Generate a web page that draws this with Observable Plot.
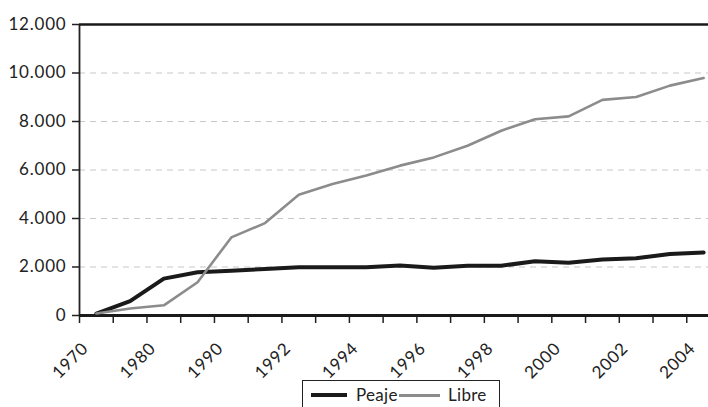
<!DOCTYPE html>
<html>
<head>
<meta charset="utf-8">
<script src="https://cdn.jsdelivr.net/npm/d3@7"></script>
<script src="https://cdn.jsdelivr.net/npm/@observablehq/plot@0.6"></script>
<style>
  html, body { margin: 0; padding: 0; background: #fff; overflow: hidden; width: 708px; height: 407px; }
  #wrap { position: relative; width: 708px; height: 407px; font-family: Lato, "Open Sans", sans-serif; }
  #chart svg text { letter-spacing: 0.8px; }
  #legend { position: absolute; left: 302px; top: 380px; width: 198px; height: 40px; border: 1px solid #222; box-sizing: border-box; font-size: 17px; color: #222; background: #fff; z-index: 2; }
  #legend .item { position: absolute; top: 4px; line-height: 20px; letter-spacing: 0.3px; }
  #legend .sw { position: absolute; }
</style>
</head>
<body>
<div id="wrap">
  <div id="chart"></div>
  <div id="legend">
    <span class="sw" style="left:8px; top:12px; width:36px; height:4px; background:#1a1a1a;"></span>
    <span class="item" style="left:53px;">Peaje</span>
    <span class="sw" style="left:96px; top:13px; width:41px; height:2.5px; background:#8c8c8c;"></span>
    <span class="item" style="left:145px;">Libre</span>
  </div>
</div>
<script>
const years = ["1970","1975","1980","1985","1990","1991","1992","1993","1994","1995","1996","1997","1998","1999","2000","2001","2002","2003","2004"];
const tickLabels = ["1970","1980","1990","1992","1994","1996","1998","2000","2002","2004"];
const peaje = [80, 590, 1520, 1780, 1850, 1920, 1990, 1990, 1990, 2060, 1970, 2050, 2050, 2240, 2180, 2310, 2360, 2540, 2600];
const libre = [80, 290, 420, 1370, 3220, 3810, 4980, 5420, 5770, 6180, 6520, 7000, 7620, 8090, 8210, 8890, 9010, 9480, 9790];
const yTicks = [0, 2000, 4000, 6000, 8000, 10000, 12000];
const gridTicks = [2000, 4000, 6000, 8000, 10000];

const table = years.map((y, i) => ({i, year: y, peaje: peaje[i], libre: libre[i]}));
const boundaries = d3.range(0, years.length).map(i => i - 0.5);
const labelPos = tickLabels.map((_, k) => 2 * k - 0.5);

const fmt = d3.formatLocale({decimal: ",", thousands: ".", grouping: [3], currency: ["", ""]}).format(",");

const chart = Plot.plot({
  width: 708,
  height: 407,
  marginTop: 24,
  marginBottom: 92,
  marginLeft: 79,
  marginRight: 0,
  style: {fontFamily: "Lato, 'Open Sans', sans-serif", background: "white", color: "#222"},
  x: {domain: [-0.5, years.length - 0.5], range: [79, 720], label: null},
  y: {domain: [0, 12000], label: null},
  marks: [
    Plot.gridY(gridTicks, {stroke: "#c8c8c8", strokeOpacity: 1, strokeWidth: 1.2, strokeDasharray: "6,5"}),
    Plot.axisY(yTicks, {tickSize: 7, tickPadding: 6, fontSize: 17, tickFormat: fmt, stroke: "#222", strokeWidth: 1.5, fill: "#222"}),
    Plot.axisX(boundaries, {tickSize: 8, tickFormat: () => "", stroke: "#222", strokeWidth: 1.5}),
    Plot.text(labelPos, {x: d => d, frameAnchor: "bottom", text: (d, k) => tickLabels[k], rotate: -45, textAnchor: "end", lineAnchor: "middle", dx: 6, dy: 30, fontSize: 17, fill: "#222"}),
    Plot.ruleX([-0.5], {stroke: "#222", strokeWidth: 1.8}),
    Plot.ruleY([12000], {stroke: "#1a1a1a", strokeWidth: 2.5}),
    Plot.ruleY([0], {stroke: "#1a1a1a", strokeWidth: 2.8}),
    Plot.line(table, {x: "i", y: "peaje", stroke: "#1a1a1a", strokeWidth: 4, strokeLinejoin: "round"}),
    Plot.line(table, {x: "i", y: "libre", stroke: "#8c8c8c", strokeWidth: 2.6, strokeLinejoin: "round"})
  ]
});
document.getElementById("chart").appendChild(chart);
</script>
</body>
</html>
